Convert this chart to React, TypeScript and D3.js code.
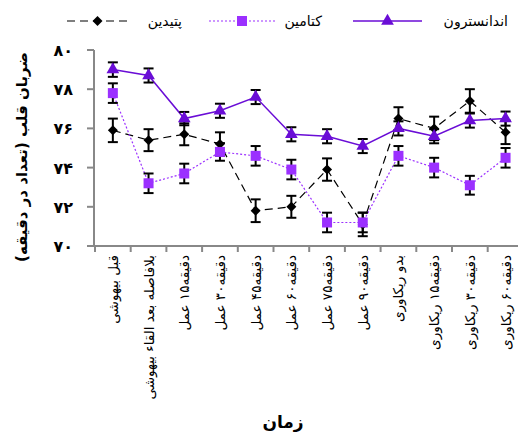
import * as d3 from 'd3';

const categories = [
  'قبل بیهوشی',
  'بلافاصله بعد القاء بیهوشی',
  'دقیقه۱۵ عمل',
  'دقیقه۳۰ عمل',
  'دقیقه۴۵ عمل',
  'دقیقه۶۰ عمل',
  'دقیقه۷۵ عمل',
  'دقیقه۹۰ عمل',
  'بدو ریکاوری',
  'دقیقه۱۵ ریکاوری',
  'دقیقه۳۰ ریکاوری',
  'دقیقه۶۰ ریکاوری',
];

const ondansetron = [79.0, 78.7, 76.5, 76.9, 77.6, 75.7, 75.6, 75.1, 76.0, 75.6, 76.4, 76.5];
const ondansetronErr = [0.37, 0.36, 0.34, 0.36, 0.36, 0.36, 0.36, 0.36, 0.36, 0.36, 0.36, 0.36];
const ketamine = [77.8, 73.2, 73.7, 74.8, 74.6, 73.9, 71.2, 71.2, 74.6, 74.0, 73.1, 74.5];
const ketamineErr = [0.5, 0.5, 0.5, 0.45, 0.5, 0.5, 0.5, 0.5, 0.5, 0.5, 0.48, 0.5];
const pethidine = [75.9, 75.4, 75.7, 75.2, 71.8, 72.0, 73.9, 71.1, 76.5, 76.0, 77.4, 75.8];
const pethidineErr = [0.6, 0.56, 0.56, 0.6, 0.58, 0.56, 0.57, 0.6, 0.58, 0.6, 0.6, 0.6];

const yTicks = [70, 72, 74, 76, 78, 80];

const toFa = (n: number) => String(n).replace(/\d/g, d => '۰۱۲۳۴۵۶۷۸۹'[+d]);

const font = "'DejaVu Sans', sans-serif";

export default function App() {
  const w = 518, h = 436;
  const x = d3.scaleBand<string>().domain(categories).range([95, 523.4]);
  const y = d3.scaleLinear().domain([70, 80]).range([246, 50]);
  const cx = (c: string) => (x(c) as number) + x.bandwidth() / 2;

  const series = [
    { name: 'پتیدین', vals: pethidine, err: pethidineErr, color: '#000', dash: '8,5', width: 1.2, marker: 'diamond' },
    { name: 'کتامین', vals: ketamine, err: ketamineErr, color: '#9b30ff', dash: '2,2', width: 1.2, marker: 'square' },
    { name: 'اندانسترون', vals: ondansetron, err: ondansetronErr, color: '#6a0dd6', dash: '', width: 1.5, marker: 'triangle' },
  ];

  const line = (vals: number[]) =>
    d3.line<number>().x((_d, i) => cx(categories[i])).y(d => y(d))(vals) || '';

  const marker = (type: string, px: number, py: number, color: string, key: string) => {
    if (type === 'diamond') {
      const p = d3.symbol(d3.symbolSquare, 50)();
      return <path key={key} d={p || ''} transform={`translate(${px},${py}) rotate(45)`} fill="#000" />;
    }
    if (type === 'square') {
      return <rect key={key} x={px - 5} y={py - 5} width={10} height={10} fill={color} />;
    }
    const p = d3.symbol(d3.symbolTriangle, 70)();
    return <path key={key} d={p || ''} transform={`translate(${px},${py})`} fill={color} />;
  };

  // legend positions (right to left)
  const legend = [
    { s: series[2], lx1: 353, lx2: 422, tx: 508 },
    { s: series[1], lx1: 209, lx2: 275, tx: 322 },
    { s: series[0], lx1: 67, lx2: 128, tx: 182 },
  ];

  return (
    <svg width={w} height={h} style={{ position: 'absolute', left: 0, top: 0, background: '#fff' }} fontFamily={font}>
      {/* legend */}
      {legend.map(({ s, lx1, lx2, tx }) => (
        <g key={s.name}>
          <line x1={lx1} x2={lx2} y1={21} y2={21} stroke={s.color} strokeWidth={s.width} strokeDasharray={s.dash} />
          {marker(s.marker, (lx1 + lx2) / 2, 21, s.color, 'lm')}
          <text x={tx} y={26} textAnchor="end" fontSize={14}>{s.name}</text>
        </g>
      ))}

      {/* y axis */}
      <line x1={94} x2={94} y1={y(80)} y2={247} stroke="#888" strokeWidth={2} />
      {yTicks.map(t => (
        <g key={t}>
          <line x1={87} x2={94} y1={y(t)} y2={y(t)} stroke="#888" strokeWidth={2} />
          <text x={73} y={y(t) + 6} textAnchor="end" fontSize={16} fontWeight="bold">{toFa(t)}</text>
        </g>
      ))}
      <text transform={`translate(27,${157}) rotate(-90)`} textAnchor="middle" fontSize={15} fontWeight="bold">
        ضربان قلب  (تعداد در دقیقه)
      </text>

      {/* x axis */}
      <line x1={94} x2={w} y1={246} y2={246} stroke="#888" strokeWidth={2} />
      {categories.map(c => (
        <g key={c}>
          <line x1={x(c)} x2={x(c)} y1={246} y2={252} stroke="#888" strokeWidth={2} />
          <text transform={`translate(${cx(c) + 5},255) rotate(-90)`} textAnchor="end" fontSize={13.5}>{c}</text>
        </g>
      ))}
      <text x={283} y={428} textAnchor="middle" fontSize={17} fontWeight="bold">زمان</text>

      {/* lines */}
      {series.map(s => (
        <path key={s.name} d={line(s.vals)} fill="none" stroke={s.color} strokeWidth={s.width} strokeDasharray={s.dash} />
      ))}

      {/* error bars */}
      {series.map(s => (
        <g key={s.name}>
          {s.vals.map((v, i) => {
            const px = cx(categories[i]);
            const top = y(v + s.err[i]);
            const bot = y(v - s.err[i]);
            return (
              <g key={i} stroke="#000" strokeWidth={2}>
                <line x1={px} x2={px} y1={top} y2={bot} />
                <line x1={px - 5} x2={px + 5} y1={top} y2={top} />
                <line x1={px - 5} x2={px + 5} y1={bot} y2={bot} />
              </g>
            );
          })}
        </g>
      ))}

      {/* markers */}
      {series.map(s => (
        <g key={s.name}>
          {s.vals.map((v, i) => marker(s.marker, cx(categories[i]), y(v), s.color, String(i)))}
        </g>
      ))}
    </svg>
  );
}
